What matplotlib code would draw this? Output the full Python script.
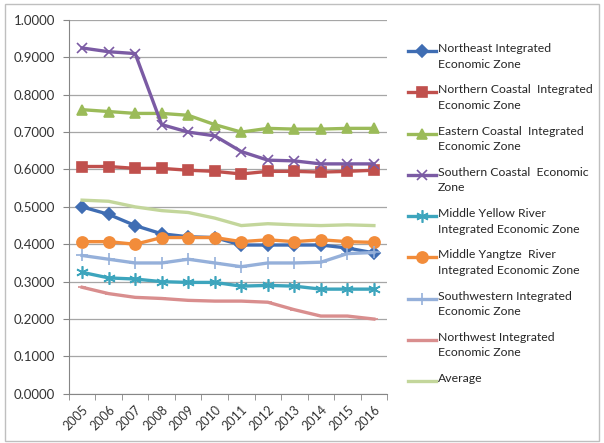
import numpy as np
import matplotlib
matplotlib.use('Agg')
import matplotlib.pyplot as plt
from matplotlib.patches import Rectangle
from matplotlib.lines import Line2D
from matplotlib.ticker import FormatStrFormatter

plt.rcParams['font.family'] = ['Lato', 'DejaVu Sans']

years = ['2005', '2006', '2007', '2008', '2009', '2010',
         '2011', '2012', '2013', '2014', '2015', '2016']

northeast = [0.500, 0.480, 0.450, 0.428, 0.420, 0.418, 0.398, 0.398, 0.398, 0.398, 0.390, 0.377]
northern_coastal = [0.608, 0.608, 0.603, 0.603, 0.598, 0.595, 0.588, 0.595, 0.595, 0.593, 0.595, 0.598]
eastern_coastal = [0.760, 0.755, 0.750, 0.750, 0.745, 0.720, 0.700, 0.710, 0.708, 0.708, 0.710, 0.710]
southern_coastal = [0.925, 0.915, 0.910, 0.720, 0.700, 0.690, 0.648, 0.625, 0.623, 0.615, 0.615, 0.615]
middle_yellow = [0.325, 0.310, 0.307, 0.300, 0.298, 0.298, 0.288, 0.290, 0.288, 0.280, 0.280, 0.280]
middle_yangtze = [0.407, 0.407, 0.400, 0.418, 0.418, 0.418, 0.407, 0.412, 0.407, 0.412, 0.407, 0.405]
southwestern = [0.370, 0.360, 0.350, 0.350, 0.360, 0.350, 0.340, 0.350, 0.350, 0.352, 0.375, 0.378]
northwest = [0.285, 0.268, 0.258, 0.255, 0.250, 0.248, 0.248, 0.245, 0.225, 0.208, 0.208, 0.200]
average = [0.518, 0.515, 0.500, 0.490, 0.485, 0.470, 0.450, 0.455, 0.452, 0.450, 0.452, 0.450]

labels = ['Northeast Integrated\nEconomic Zone',
          'Northern Coastal  Integrated\nEconomic Zone',
          'Eastern Coastal  Integrated\nEconomic Zone',
          'Southern Coastal  Economic\nZone',
          'Middle Yellow River\nIntegrated Economic Zone',
          'Middle Yangtze  River\nIntegrated Economic Zone',
          'Southwestern Integrated\nEconomic Zone',
          'Northwest Integrated\nEconomic Zone',
          'Average']

series = [northeast, northern_coastal, eastern_coastal, southern_coastal,
          middle_yellow, middle_yangtze, southwestern, northwest, average]
colors = ['#3F6DB3', '#C0504D', '#9BBB59', '#7B5BA4', '#3DA5BD',
          '#F28C3A', '#95B0DA', '#D98E8E', '#C3D69B']
markers = ['D', 's', '^', 'x', (6, 2, 0), 'o', '+', '_', None]
msizes = [6, 7, 7, 7, 9, 8, 8, 6, 0]

W, H = 604, 443
fig = plt.figure(figsize=(W / 100, H / 100), dpi=100)
ax = fig.add_axes([0.114, 0.111, 0.527, 0.844])
fig.patches.append(Rectangle((0.008, 0.005), 0.984, 0.985, transform=fig.transFigure,
                             fill=False, edgecolor='#BFBFBF', linewidth=1))

x = np.arange(len(years))
for vals, c, m, ms in zip(series, colors, markers, msizes):
    ax.plot(x, vals, color=c, linewidth=2.4, marker=m, markersize=ms,
            markeredgewidth=1.2)

ax.set_xlim(-0.5, len(years) - 0.5)
ax.set_ylim(0, 1.0)
ax.set_yticks(np.arange(0, 1.01, 0.1))
ax.yaxis.set_major_formatter(FormatStrFormatter('%.4f'))
ax.yaxis.grid(True, color='#A6A6A6', linewidth=0.9)
ax.set_axisbelow(True)

ax.set_xticks(x)
ax.set_xticklabels(years, rotation=45, ha='right', rotation_mode='anchor')
ax.set_xticks(np.arange(-0.5, len(years), 1), minor=True)
ax.tick_params(axis='x', which='major', length=0, labelsize=9, colors='#333333', pad=7)
ax.tick_params(axis='x', which='minor', length=4, color='#868686')
ax.tick_params(axis='y', length=4, color='#868686', labelsize=9.5, labelcolor='#333333', pad=6)

for s in ['top', 'right']:
    ax.spines[s].set_visible(False)
for s in ['left', 'bottom']:
    ax.spines[s].set_color('#868686')

# legend built by hand so the key sits on the first text line, like Excel
x0, x1, xt = 408 / W, 436 / W, 438 / W
y_first, step = 51, 41.25
for i, (lab, c, m, ms) in enumerate(zip(labels, colors, markers, msizes)):
    yy = 1 - (y_first + i * step) / H
    fig.add_artist(Line2D([x0, (x0 + x1) / 2, x1], [yy, yy, yy], transform=fig.transFigure,
                          color=c, linewidth=2.4, marker=m, markersize=ms,
                          markeredgewidth=1.2, markevery=[1]))
    fig.text(xt, yy + 8 / H, lab, fontsize=8.8, color='#262626', va='top', ha='left',
             linespacing=1.5)

fig.savefig('out.png', dpi=100)
